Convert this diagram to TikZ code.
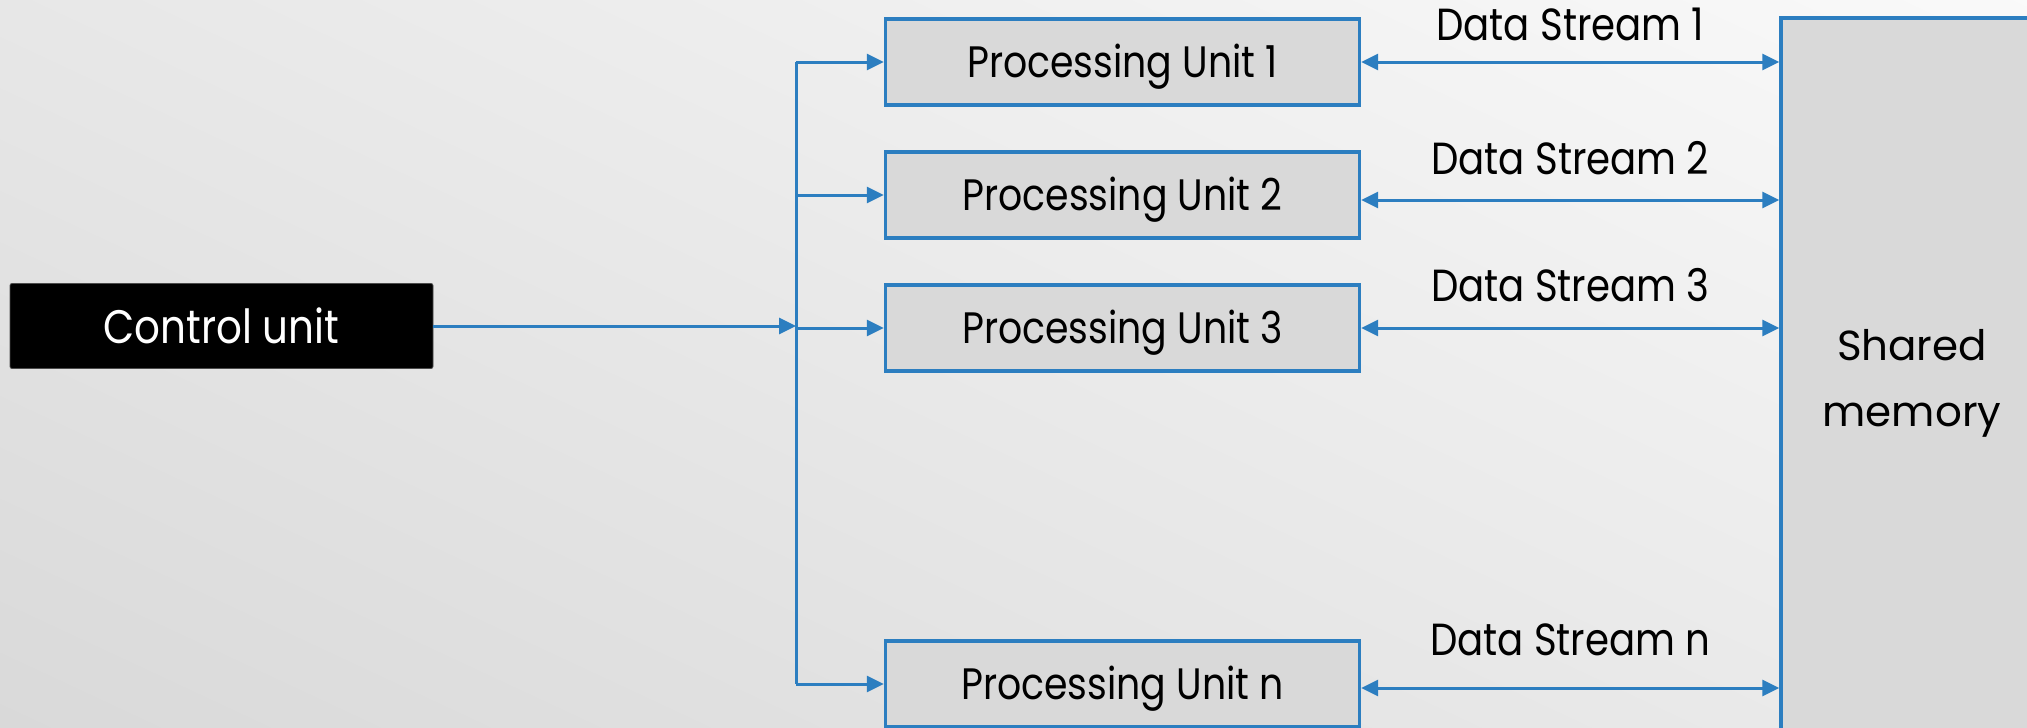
\documentclass[tikz,border=0pt]{standalone}
\usepackage{fontspec}
\setmainfont{Poppins}
\newfontfamily\narrowfont[FakeStretch=0.86]{Poppins}
\usetikzlibrary{arrows.meta,positioning}
\definecolor{linkblue}{RGB}{44,126,192}
\definecolor{boxgray}{RGB}{217,217,217}
\tikzset{
  unitbox/.style={draw=linkblue, line width=3.4pt, fill=boxgray,
    minimum width=474pt, minimum height=86pt, inner sep=0pt,
    text height=31pt, text depth=0pt,
    font=\narrowfont\fontsize{44}{50}\selectfont},
  link/.style={draw=linkblue, line width=3pt},
  tip/.style={-{Triangle[length=17pt,width=16pt]}},
  twotip/.style={{Triangle[length=17pt,width=16pt]}-{Triangle[length=17pt,width=16pt]}},
  streamlabel/.style={font=\narrowfont\fontsize{45}{50}\selectfont, inner sep=0pt,
    text height=32pt, text depth=0pt}
}
\begin{document}
\begin{tikzpicture}[x=1pt,y=-1pt]
  % page frame and soft grey background
  \clip (0,0) rectangle (2027,728);
  \shade[top color=white!98!black, bottom color=black!15, shading angle=-25]
    (-200,-200) rectangle (2227,928);

  % control unit
  \node[fill=black, draw=black!70, line width=0.8pt, rounded corners=2pt,
        minimum width=423pt, minimum height=85pt, inner sep=0pt,
        text=white, font=\narrowfont\fontsize{47}{52}\selectfont]
        (cu) at (221.5,326) {Control unit};

  % processing units
  \node[unitbox] (pu1) at (1122.5,62)  {Processing Unit 1};
  \node[unitbox] (pu2) at (1122.5,195) {Processing Unit 2};
  \node[unitbox] (pu3) at (1122.5,328) {Processing Unit 3};
  \node[unitbox] (pun) at (1122.5,684) {Processing Unit n};

  % shared memory (runs past the right and bottom edges)
  \node[draw=linkblue, line width=3.4pt, fill=boxgray, inner sep=0pt,
        minimum width=262pt, minimum height=730pt, align=center,
        font=\fontsize{42}{66}\selectfont]
        (mem) at (1912,383) {Shared\\memory};

  % broadcast bus from the control unit
  \coordinate (bus) at (796,0);
  \draw[link] (pu1.west -| bus) -- (pun.west -| bus);
  \draw[link,tip] (cu.east) -- (cu.east -| bus);
  \foreach \u in {pu1,pu2,pu3,pun}
    \draw[link,tip] (\u.west -| bus) -- (\u.west);

  % data streams to shared memory
  \foreach \u/\lab/\dy/\gap in {pu1/1/0/20,pu2/2/5/24,pu3/3/0/25,pun/n/4/31}{
    \draw[link,twotip] ([yshift=-\dy pt]\u.east) -- ([yshift=-\dy pt]\u.east -| mem.west)
      node[streamlabel, midway, above=\gap pt] {Data Stream \lab};
  }
\end{tikzpicture}
\end{document}
